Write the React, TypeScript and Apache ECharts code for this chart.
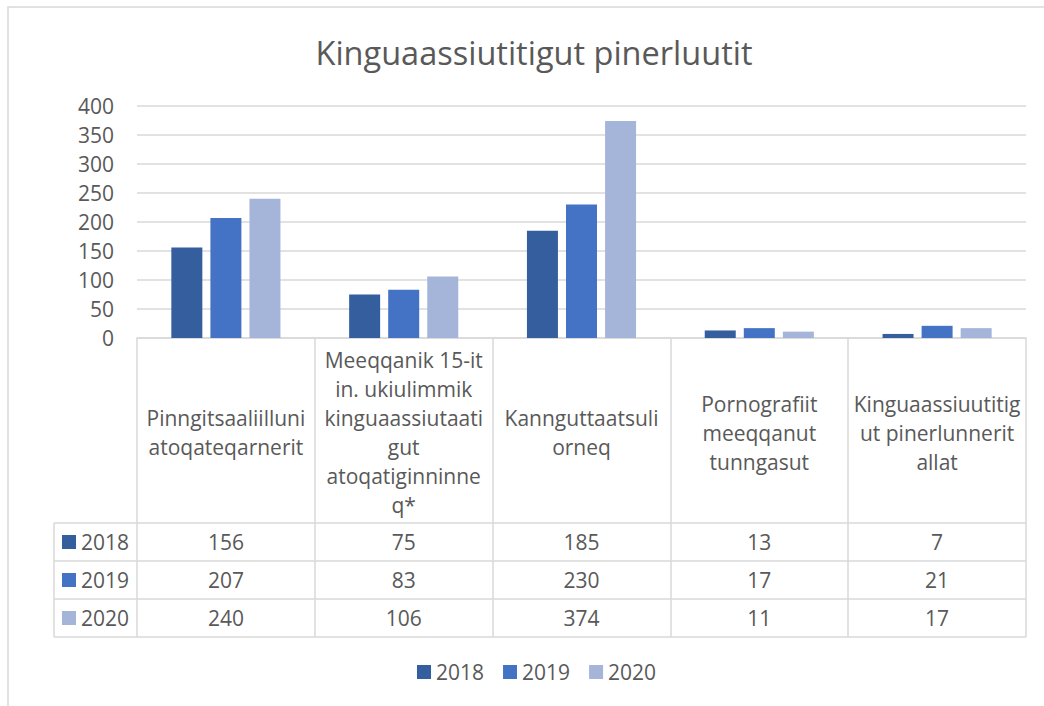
import React, { useEffect, useRef } from "react";
import * as echarts from "echarts";

const title = "Kinguaassiutitigut pinerluutit";
const categories = [
  "Pinngitsaaliilluni\natoqateqarnerit",
  "Meeqqanik 15-it\nin. ukiulimmik\nkinguaassiutaati\ngut\natoqatiginninne\nq*",
  "Kannguttaatsuli\norneq",
  "Pornografiit\nmeeqqanut\ntunngasut",
  "Kinguaassiuutitig\nut pinerlunnerit\nallat",
];
const years = ["2018", "2019", "2020"];
const values2018 = [156, 75, 185, 13, 7];
const values2019 = [207, 83, 230, 17, 21];
const values2020 = [240, 106, 374, 11, 17];
const seriesValues = [values2018, values2019, values2020];
const colors = ["#355E9F", "#4472C4", "#A5B5DA"];
const yMin = 0;
const yMax = 400;
const yStep = 50;

const FONT = "'Open Sans', sans-serif";
const TXT = "#595959";
const LINE = "#d9d9d9";

export default function App() {
  const ref = useRef<HTMLDivElement>(null);
  useEffect(() => {
    if (!ref.current) return;
    const chart = echarts.init(ref.current, undefined, { renderer: "svg" });
    const gridLeft = 137;
    const gridRight = 1026;
    const axisY = 338;
    const headerBottom = 523;
    const rowH = 38;
    const tableLeft = 54;

    const valueAxes = seriesValues.map((vals, k) => ({
      type: "category",
      data: vals.map(String),
      position: "bottom",
      offset: headerBottom - axisY + rowH * k,
      axisLine: { show: false },
      axisTick: { show: false },
      splitLine: { show: false },
      axisLabel: {
        interval: 0,
        margin: rowH / 2,
        verticalAlign: "middle",
        fontSize: 21,
        fontFamily: FONT,
        color: TXT,
      },
    }));

    const tableLines: any[] = [];
    for (let r = 0; r <= years.length; r++) {
      const y = headerBottom + rowH * r;
      tableLines.push({
        type: "line",
        shape: { x1: tableLeft, y1: y, x2: gridRight, y2: y },
        style: { stroke: LINE, lineWidth: 1.5 },
      });
    }
    tableLines.push({
      type: "line",
      shape: { x1: tableLeft, y1: headerBottom, x2: tableLeft, y2: headerBottom + rowH * years.length },
      style: { stroke: LINE, lineWidth: 1.5 },
    });

    chart.setOption({
      animation: false,
      backgroundColor: "#ffffff",
      title: {
        text: title,
        left: 529,
        textAlign: "center",
        top: 31,
        textStyle: { fontSize: 32.5, fontWeight: "normal", color: TXT, fontFamily: FONT },
      },
      legend: [
        {
          data: years,
          orient: "horizontal",
          left: 417,
          top: 660,
          padding: 0,
          itemWidth: 14,
          itemHeight: 14,
          itemGap: 19,
          icon: "rect",
          selectedMode: false,
          textStyle: { fontSize: 21, fontFamily: FONT, color: TXT, lineHeight: 24 },
        },
        {
          data: years,
          orient: "vertical",
          left: 62,
          top: headerBottom + 7,
          padding: 0,
          itemWidth: 14,
          itemHeight: 14,
          itemGap: rowH - 24,
          icon: "rect",
          selectedMode: false,
          textStyle: { fontSize: 21, fontFamily: FONT, color: TXT, lineHeight: 24 },
        },
      ],
      grid: { left: gridLeft, right: 1044 - gridRight, top: 106, bottom: 706 - axisY },
      xAxis: [
        {
          type: "category",
          data: categories,
          axisLine: { show: true, lineStyle: { color: LINE, width: 1.5 } },
          axisTick: {
            show: true,
            interval: 0,
            length: headerBottom - axisY + rowH * years.length,
            lineStyle: { color: LINE, width: 1.5 },
          },
          axisLabel: {
            interval: 0,
            margin: (headerBottom - axisY) / 2 + 2,
            verticalAlign: "middle",
            lineHeight: 29,
            fontSize: 21,
            fontFamily: FONT,
            color: TXT,
          },
        },
        ...valueAxes,
      ],
      yAxis: {
        type: "value",
        min: yMin,
        max: yMax,
        interval: yStep,
        axisLine: { show: false },
        axisTick: { show: false },
        splitLine: { lineStyle: { color: LINE, width: 1.5 } },
        axisLabel: { fontSize: 21, fontFamily: FONT, color: TXT, margin: 23 },
      },
      series: years.map((y, k) => ({
        name: y,
        type: "bar",
        data: seriesValues[k],
        barWidth: 31,
        barGap: "26%",
        itemStyle: { color: colors[k] },
      })),
      graphic: [
        {
          type: "rect",
          shape: { x: 8, y: 7, width: 1100, height: 800 },
          style: { fill: "none", stroke: LINE, lineWidth: 1.5 },
          silent: true,
        },
        ...tableLines,
      ],
    });
    return () => chart.dispose();
  }, []);
  return (
    <div
      ref={ref}
      style={{ position: "fixed", left: 0, top: 0, width: 1044, height: 706, background: "#fff" }}
    />
  );
}
